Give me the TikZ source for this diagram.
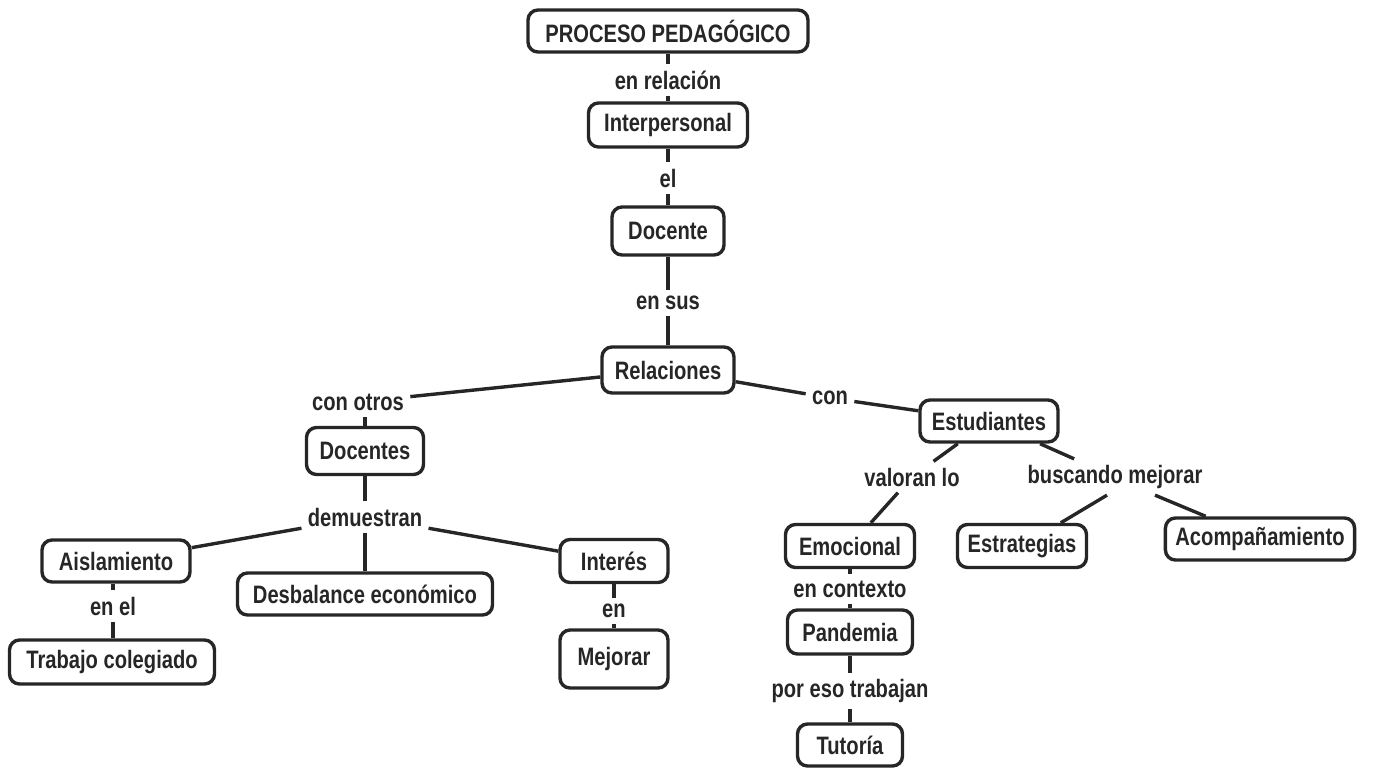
\documentclass[tikz,border=0pt]{standalone}
\usepackage{fontspec}
\setmainfont{Liberation Sans}[FakeStretch=0.8]
\definecolor{inkgray}{HTML}{262626}
\newcommand\mapfont{\fontsize{12.6}{15}\selectfont\bfseries}

\begin{document}
\begin{tikzpicture}[x=0.5pt,y=-0.5pt]

\tikzset{concept/.style={draw=inkgray, line width=1.7pt, rounded corners=5pt,
            inner xsep=5pt, minimum height=22pt, font=\mapfont, text=inkgray},
         linkword/.style={inner sep=3pt, font=\mapfont, text=inkgray},
         link/.style={draw=inkgray, line width=1.7pt}}

\useasboundingbox (0,0) rectangle (1378,767);

% concepts
\node[concept, minimum width=140pt, minimum height=21pt] (proceso) at (668,31) {PROCESO PEDAGÓGICO};
\node[concept, minimum width=79.5pt] (interpersonal) at (668,125) {Interpersonal};
\node[concept, minimum width=56pt, minimum height=24pt] (docente) at (668,231) {Docente};
\node[concept, minimum width=66pt, minimum height=23pt] (relaciones) at (668,370) {Relaciones};
\node[concept, minimum width=58.5pt, minimum height=23.5pt] (docentes) at (365,451) {Docentes};
\node[concept, minimum width=74pt, minimum height=21pt] (aislamiento) at (116,561) {Aislamiento};
\node[concept, minimum width=127.5pt, minimum height=21pt] (desbalance) at (365,594) {Desbalance económico};
\node[concept, minimum width=54pt, minimum height=21.5pt] (interes) at (614,561) {Interés};
\node[concept, minimum width=102.5pt] (trabajo) at (112,662) {Trabajo colegiado};
\node[concept, minimum width=54pt, minimum height=29pt] (mejorar) at (614,659) {Mejorar};
\node[concept, minimum width=69pt, minimum height=21pt] (estudiantes) at (989,421) {Estudiantes};
\node[concept, minimum width=64.5pt, minimum height=21.5pt] (emocional) at (850,546) {Emocional};
\node[concept, minimum width=64.5pt, minimum height=21.5pt] (estrategias) at (1022,546) {Estrategias};
\node[concept, minimum width=92.5pt, minimum height=21pt] (acomp) at (1260,539) {Acompañamiento};
\node[concept, minimum width=62.5pt] (pandemia) at (850,632) {Pandemia};
\node[concept, minimum width=52.5pt, minimum height=21pt] (tutoria) at (850,745) {Tutoría};

% linking words
\node[linkword] (enrel) at (668,80) {en relación};
\node[linkword] (el) at (668,178) {el};
\node[linkword] (ensus) at (668,303) {en sus};
\node[linkword] (conotros) at (358,402) {con otros};
\node[linkword] (demuestran) at (365,517) {demuestran};
\node[linkword] (enel) at (113,606) {en el};
\node[linkword] (en) at (614,611) {en};
\node[linkword] (con) at (830,398) {con};
\node[linkword] (valoran) at (912,477) {valoran lo};
\node[linkword] (buscando) at (1115,477) {buscando mejorar};
\node[linkword] (encontexto) at (850,589) {en contexto};
\node[linkword] (poreso) at (850,691) {por eso trabajan};

% connectors
\draw[link] (proceso) -- (enrel) -- (interpersonal);
\draw[link] (interpersonal) -- (el) -- (docente);
\draw[link] (docente) -- (ensus) -- (relaciones);
\draw[link] (relaciones) -- (conotros);
\draw[link] (docentes.north |- conotros.south) -- (docentes.north);
\draw[link] (docentes) -- (demuestran);
\draw[link] (demuestran) -- (aislamiento);
\draw[link] (demuestran) -- (desbalance);
\draw[link] (demuestran) -- (interes);
\draw[link] (aislamiento.south -| enel.north) -- (enel) -- (trabajo.north -| enel.south);
\draw[link] (interes) -- (en) -- (mejorar);
\draw[link] (relaciones) -- (con) -- (estudiantes);
\draw[link] (estudiantes) -- (valoran) -- (emocional);
\draw[link] (estudiantes) -- (buscando);
\draw[link] (buscando.south) ++(-8,0) coordinate (bs1) -- (estrategias);
\draw[link] (buscando.south) ++(40,0) coordinate (bs2) -- (acomp);
\draw[link] (emocional) -- (encontexto) -- (pandemia);
\draw[link] (pandemia) -- (poreso) -- (tutoria);

\end{tikzpicture}
\end{document}
